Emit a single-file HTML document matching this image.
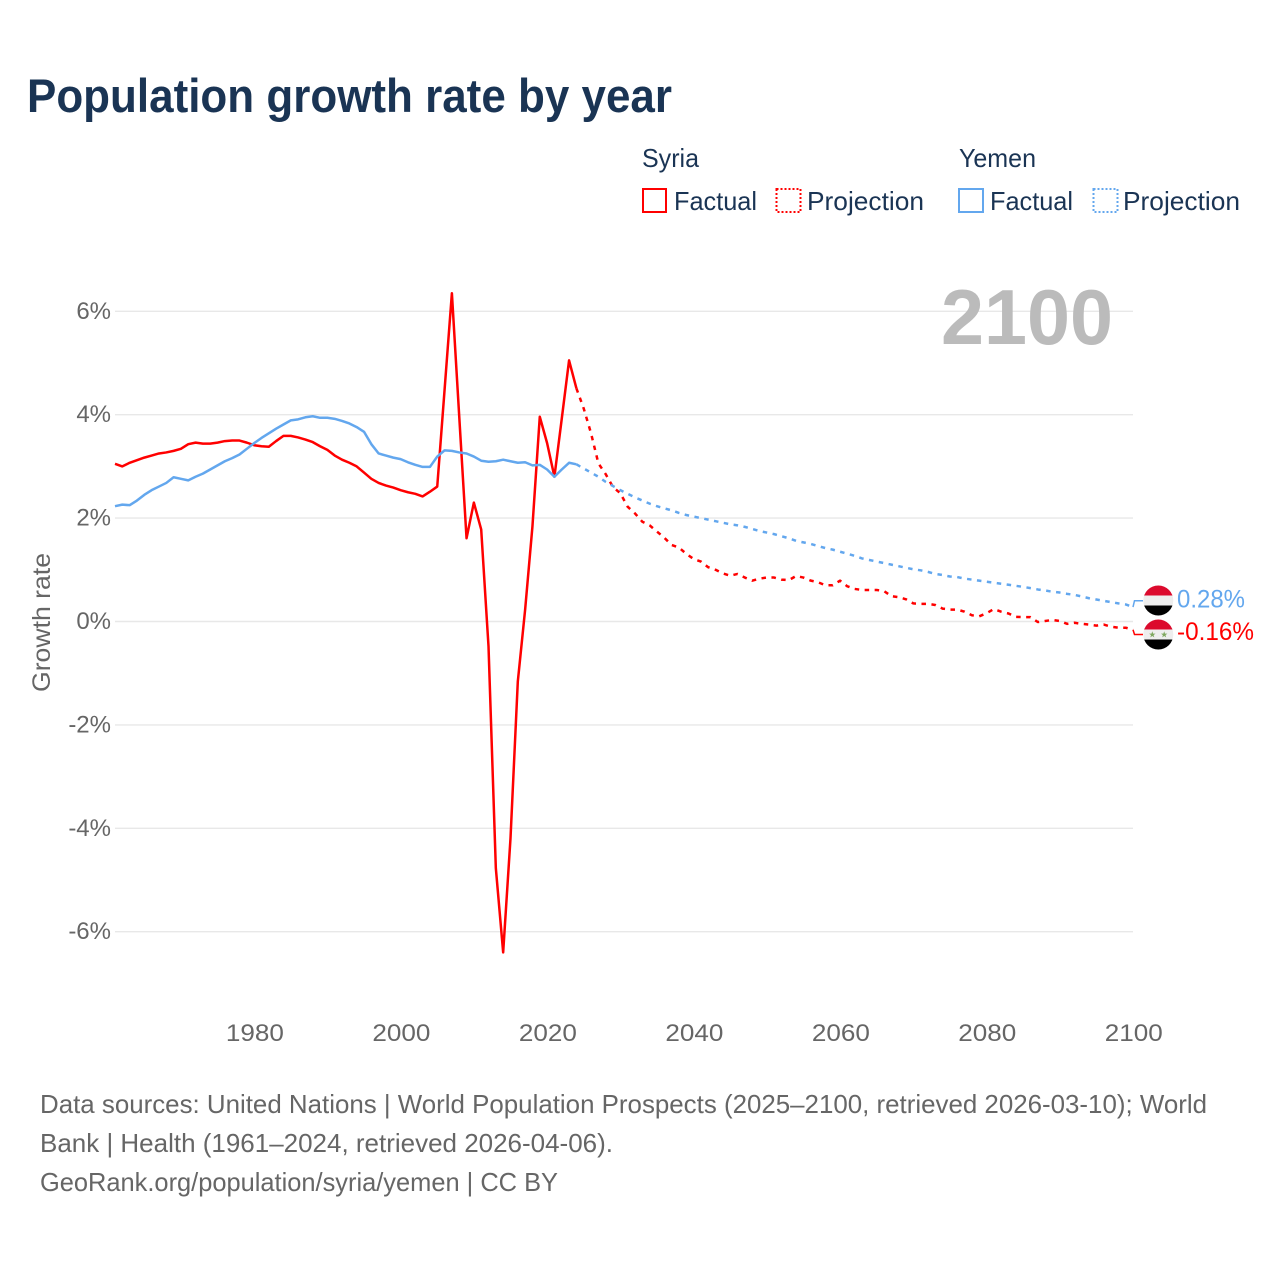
<!DOCTYPE html>
<html lang="en">
<head>
<meta charset="utf-8">
<title>Population growth rate by year</title>
<style>
html,body{margin:0;padding:0;background:#fff;}
svg{display:block;}
text{font-family:"Liberation Sans",sans-serif;}
</style>
</head>
<body>
<svg id="chart" xmlns="http://www.w3.org/2000/svg" width="1280" height="1280" viewBox="0 0 1280 1280">
  <rect width="1280" height="1280" fill="#ffffff"/>
  <text x="27" y="112" font-size="47" font-weight="700" fill="#1a3454" textLength="645" lengthAdjust="spacingAndGlyphs">Population growth rate by year</text>

  <g font-size="26" fill="#1a3454">
    <text x="642" y="167" textLength="57" lengthAdjust="spacingAndGlyphs">Syria</text>
    <text x="959" y="167" textLength="77" lengthAdjust="spacingAndGlyphs">Yemen</text>
    <g>
      <rect x="643" y="189" width="23" height="23" fill="none" stroke="#ff0000" stroke-width="2"/>
      <text x="674" y="210" textLength="83" lengthAdjust="spacingAndGlyphs">Factual</text>
    </g>
    <g>
      <rect x="776.5" y="189" width="24" height="23" fill="none" stroke="#ff0000" stroke-width="2" stroke-dasharray="2 2"/>
      <text x="807" y="210" textLength="117" lengthAdjust="spacingAndGlyphs">Projection</text>
    </g>
    <g>
      <rect x="959" y="189" width="24" height="23" fill="none" stroke="#63a7ee" stroke-width="2"/>
      <text x="990" y="210" textLength="83" lengthAdjust="spacingAndGlyphs">Factual</text>
    </g>
    <g>
      <rect x="1093.5" y="189" width="24" height="23" fill="none" stroke="#63a7ee" stroke-width="2" stroke-dasharray="2 2"/>
      <text x="1123" y="210" textLength="117" lengthAdjust="spacingAndGlyphs">Projection</text>
    </g>
  </g>

  <g id="grid"></g>
  <g id="y-ticks" font-size="24" fill="#666666" text-anchor="end"></g>
  <g id="x-ticks" font-size="24" fill="#666666" text-anchor="middle"></g>
  <text transform="translate(50 622.5) rotate(-90)" font-size="25" fill="#666666" text-anchor="middle" textLength="139" lengthAdjust="spacingAndGlyphs">Growth rate</text>
  <text x="941" y="344" font-size="78" font-weight="700" fill="#bbbbbb" textLength="172" lengthAdjust="spacingAndGlyphs">2100</text>

  <g id="series"></g>

  <g>
    <clipPath id="clip-yemen"><circle cx="1158.3" cy="600.5" r="15"/></clipPath>
    <g clip-path="url(#clip-yemen)">
      <rect x="1143" y="585" width="31" height="11" fill="#dc0a2d"/>
      <rect x="1143" y="595.5" width="31" height="10" fill="#eeeeee"/>
      <rect x="1143" y="605.5" width="31" height="11" fill="#000000"/>
    </g>
  </g>
  <g>
    <clipPath id="clip-syria"><circle cx="1158.3" cy="634.5" r="15"/></clipPath>
    <g clip-path="url(#clip-syria)">
      <rect x="1143" y="619" width="31" height="11" fill="#dc0a2d"/>
      <rect x="1143" y="629.5" width="31" height="10" fill="#eeeeee"/>
      <rect x="1143" y="639.5" width="31" height="11" fill="#000000"/>
    </g>
    <polygon points="1152.3,631.3 1153.1,633.6 1155.5,633.6 1153.6,635.1 1154.3,637.4 1152.3,636 1150.3,637.4 1151,635.1 1149.1,633.6 1151.5,633.6" fill="#7fa860"/>
    <polygon points="1164.2,631.3 1165,633.6 1167.4,633.6 1165.5,635.1 1166.2,637.4 1164.2,636 1162.2,637.4 1162.9,635.1 1161,633.6 1163.4,633.6" fill="#7fa860"/>
  </g>

  <text id="label-yemen" x="1177" y="607.5" font-size="25" fill="#63a7ee" textLength="68" lengthAdjust="spacingAndGlyphs"></text>
  <text id="label-syria" x="1177" y="640" font-size="25" fill="#ff0000" textLength="77" lengthAdjust="spacingAndGlyphs"></text>

  <g font-size="26" fill="#666666">
    <text x="40" y="1113" textLength="1167" lengthAdjust="spacingAndGlyphs">Data sources: United Nations | World Population Prospects (2025–2100, retrieved 2026-03-10); World</text>
    <text x="40" y="1152" textLength="573" lengthAdjust="spacingAndGlyphs">Bank | Health (1961–2024, retrieved 2026-04-06).</text>
    <text x="40" y="1191" textLength="518" lengthAdjust="spacingAndGlyphs">GeoRank.org/population/syria/yemen | CC BY</text>
  </g>
</svg>
<script>
const firstFactualYear = 1961;
const firstProjectionYear = 2024;
const xTickYears = [1980, 2000, 2020, 2040, 2060, 2080, 2100];
const yTickValues = [6, 4, 2, 0, -2, -4, -6];
const endLabels = ["0.28%", "-0.16%"];

const syriaFactual = [
  3.05,3.00,3.07,3.12,3.17,3.21,3.25,3.27,3.30,3.34,
  3.43,3.46,3.44,3.44,3.46,3.49,3.50,3.50,3.46,3.41,
  3.39,3.38,3.49,3.59,3.59,3.56,3.52,3.47,3.39,3.32,
  3.21,3.13,3.07,3.00,2.88,2.76,2.68,2.63,2.59,2.54,
  2.50,2.47,2.42,2.51,2.61,4.48,6.35,3.97,1.61,2.30,
  1.78,-0.48,-4.77,-6.40,-4.20,-1.16,0.23,1.84,3.96,3.45,
  2.80,3.92,5.05,4.51
];
const syriaProjection = [
  4.51,4.12,3.64,3.06,2.85,2.60,2.48,
  2.22,2.09,1.93,1.86,1.74,1.62,1.48,1.43,1.31,1.21,
  1.16,1.05,1.00,0.93,0.885,0.92,0.85,0.79,0.83,0.85,
  0.85,0.81,0.80,0.88,0.85,0.79,0.76,0.70,0.70,0.79,
  0.68,0.63,0.61,0.61,0.61,0.59,0.49,0.47,0.43,0.35,
  0.34,0.34,0.32,0.25,0.23,0.23,0.19,0.12,0.10,0.16,
  0.24,0.19,0.155,0.09,0.085,0.085,-0.01,0.01,0.03,0.01,
  -0.045,-0.025,-0.045,-0.06,-0.08,-0.06,-0.10,-0.12,-0.12,-0.16
];
const yemenFactual = [
  2.23,2.26,2.25,2.34,2.45,2.54,2.61,2.68,2.79,2.76,
  2.73,2.80,2.86,2.94,3.02,3.10,3.16,3.23,3.34,3.45,
  3.55,3.64,3.73,3.81,3.89,3.91,3.95,3.97,3.94,3.94,
  3.92,3.88,3.83,3.76,3.67,3.43,3.25,3.21,3.17,3.14,
  3.08,3.03,2.99,2.99,3.19,3.31,3.30,3.27,3.25,3.19,
  3.11,3.09,3.10,3.13,3.10,3.07,3.08,3.02,3.03,2.94,
  2.80,2.94,3.07,3.04
];
const yemenProjection = [
  3.04,2.96,2.88,2.80,2.70,2.62,2.54,
  2.47,2.40,2.34,2.28,2.23,2.19,2.15,2.10,2.06,2.03,
  2.00,1.97,1.94,1.91,1.88,1.86,1.83,1.79,1.75,1.72,
  1.69,1.65,1.61,1.56,1.53,1.50,1.46,1.42,1.39,1.35,
  1.31,1.27,1.22,1.19,1.16,1.13,1.10,1.07,1.04,1.01,
  0.99,0.96,0.92,0.90,0.87,0.86,0.83,0.81,0.79,0.77,
  0.75,0.73,0.71,0.69,0.67,0.645,0.62,0.60,0.575,0.56,
  0.535,0.515,0.485,0.45,0.425,0.40,0.375,0.35,0.33,0.28
];

const NS = "http://www.w3.org/2000/svg";
const RED = "#ff0000";
const BLUE = "#63a7ee";
function xScale(year) { return 115 + (year - 1961) * (1133 - 115) / 139; }
function yScale(value) { return 621.5 - value * 51.7; }
function pathFrom(values, startYear) {
  return values.map(function (v, i) {
    return (i ? "L" : "M") + xScale(startYear + i).toFixed(2) + " " + yScale(v).toFixed(2);
  }).join(" ");
}
function make(tag, parent) {
  const el = document.createElementNS(NS, tag);
  parent.appendChild(el);
  return el;
}

const gridG = document.getElementById("grid");
const yTickG = document.getElementById("y-ticks");
yTickValues.forEach(function (v) {
  const line = make("line", gridG);
  
  
  line.setAttribute("x1", 115);
  line.setAttribute("x2", 1133);
  line.setAttribute("y1", yScale(v));
  line.setAttribute("y2", yScale(v));
  line.setAttribute("stroke", "#e8e8e8");
  line.setAttribute("stroke-width", "1.4");
  const t = make("text", yTickG);
  
  
  t.setAttribute("x", 111);
  t.setAttribute("y", yScale(v) + 7.5);
  t.textContent = v + "%";
});

const xTickG = document.getElementById("x-ticks");
xTickYears.forEach(function (year) {
  const t = make("text", xTickG);
  
  
  t.setAttribute("x", xScale(year) + 0.8);
  t.setAttribute("y", 1041);
  t.setAttribute("textLength", 58);
  t.setAttribute("lengthAdjust", "spacingAndGlyphs");
  t.textContent = year;
});

const seriesG = document.getElementById("series");
function drawSeries(name, values, startYear, color, dashed) {
  const p = make("path", seriesG);
  
  
  p.setAttribute("d", pathFrom(values, startYear));
  p.setAttribute("fill", "none");
  p.setAttribute("stroke", color);
  p.setAttribute("stroke-width", "2.5");
  p.setAttribute("stroke-linejoin", "round");
  if (dashed) p.setAttribute("stroke-dasharray", "4.5 5.5");
}
function drawConnector(name, value, flagY, color) {
  const c = make("path", seriesG);
  
  
  const x = xScale(2100);
  c.setAttribute("d", "M" + x + " " + yScale(value) + " L" + (x + 1.5) + " " + flagY + " L" + (x + 10) + " " + flagY);
  c.setAttribute("fill", "none");
  c.setAttribute("stroke", color);
  c.setAttribute("stroke-width", "1.5");
}
drawSeries("syria-projection-line", syriaProjection, firstProjectionYear, RED, true);
drawSeries("syria-factual-line", syriaFactual, firstFactualYear, RED, false);
drawSeries("yemen-projection-line", yemenProjection, firstProjectionYear, BLUE, true);
drawSeries("yemen-factual-line", yemenFactual, firstFactualYear, BLUE, false);
drawConnector("syria-end-connector", syriaProjection[syriaProjection.length - 1], 634.5, RED);
drawConnector("yemen-end-connector", yemenProjection[yemenProjection.length - 1], 600.7, BLUE);

document.getElementById("label-yemen").textContent = endLabels[0];
document.getElementById("label-syria").textContent = endLabels[1];
</script>
</body>
</html>
